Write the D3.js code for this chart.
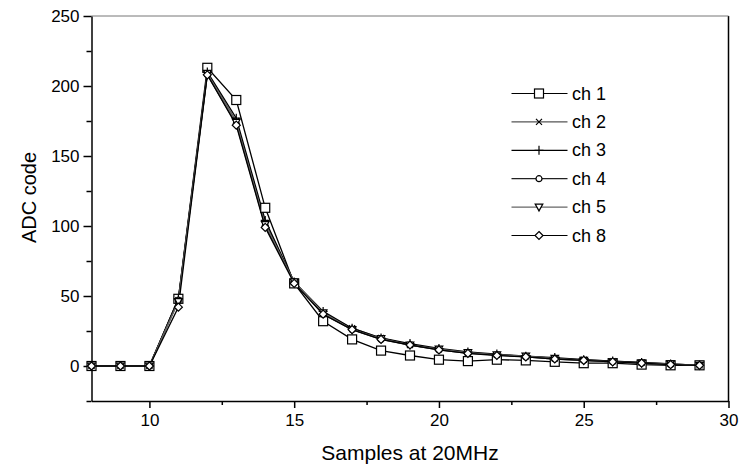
<!DOCTYPE html>
<html>
<head>
  <meta charset="utf-8">
  <title>ADC code</title>
  <script src="https://cdn.jsdelivr.net/npm/d3@7"></script>
  <style>
    body { margin: 0; background: #fff; }
    text { font-family: Arial, "Liberation Sans", Helvetica, sans-serif; fill: #000; }
  </style>
</head>
<body>
<svg id="chart" width="739" height="470"></svg>
<script>
  // sample index (20MHz)
  const samples = [8, 9, 10, 11, 12, 13, 14, 15, 16, 17, 18, 19, 20, 21, 22, 23, 24, 25, 26, 27, 28, 29];

  const ch1 = [0, 0, 0, 48, 213, 190, 113, 59, 32, 19, 11, 7.5, 4.5, 3.5, 4.5, 4, 3, 2, 2, 1, 0.5, 0.5];
  const ch2 = [0, 0, 0, 47, 209, 175, 102, 60, 38, 27, 20, 15, 12, 9.5, 8, 7, 5.5, 4.5, 3.5, 2.5, 1.5, 0.5];
  const ch3 = [0, 0, 0, 48, 210, 177, 104, 60, 39, 27, 20, 16, 12.5, 10, 8.5, 7, 6, 4.5, 3.5, 2.5, 1.5, 0.5];
  const ch4 = [0, 0, 0, 47, 208, 173, 100, 60, 37, 26, 19, 15, 11.5, 9, 8, 6.5, 5, 4, 3, 2, 1, 0.5];
  const ch5 = [0, 0, 0, 46, 209, 174, 101, 60, 38, 26, 19.5, 15, 12, 9.5, 8, 7, 5.5, 4, 3, 2, 1.5, 0.5];
  const ch8 = [0, 0, 0, 42, 208, 172, 99, 59, 37, 26, 19, 15, 11.5, 9, 7.5, 6.5, 5, 4, 3, 2, 1, 0.5];

  const seriesNames = ["ch 1", "ch 2", "ch 3", "ch 4", "ch 5", "ch 8"];
  const seriesValues = [ch1, ch2, ch3, ch4, ch5, ch8];
  const markerTypes = ["square", "cross", "plus", "circle", "triangleDown", "diamond"];
  const lineColors = ["#000", "#555", "#000", "#222", "#666", "#000"];

  const xTicks = [10, 15, 20, 25, 30];
  const xMinorTicks = [12.5, 17.5, 22.5, 27.5];
  const yTicks = [0, 50, 100, 150, 200, 250];
  const yMinorTicks = [-25, 25, 75, 125, 175, 225];

  const svg = d3.select('#chart');
  const pLeft = 91.5, pRight = 728.5, pTop = 16, pBottom = 401;

  const x = d3.scaleLinear().domain([8, 30]).range([pLeft, pRight]);
  const y = d3.scaleLinear().domain([-25, 250]).range([pBottom, pTop]);

  // frame (right + top)
  svg.append('line').attr('x1', pRight).attr('x2', pRight).attr('y1', pTop).attr('y2', pBottom)
    .attr('stroke', '#000').attr('stroke-width', 1.5);
  svg.append('line').attr('x1', pLeft).attr('x2', pRight).attr('y1', pTop).attr('y2', pTop)
    .attr('stroke', '#777').attr('stroke-width', 1);

  // minor ticks first
  svg.append('g').attr('transform', `translate(0,${pBottom})`)
    .call(d3.axisBottom(x).tickValues(xMinorTicks).tickSize(4).tickFormat(''))
    .call(g => g.select('.domain').remove())
    .selectAll('line').attr('stroke-width', 1.5);
  svg.append('g').attr('transform', `translate(${pLeft},0)`)
    .call(d3.axisLeft(y).tickValues(yMinorTicks).tickSize(5).tickFormat(''))
    .call(g => g.select('.domain').remove())
    .selectAll('line').attr('stroke-width', 1.5);

  const xAxis = svg.append('g').attr('transform', `translate(0,${pBottom})`)
    .call(d3.axisBottom(x).tickValues(xTicks).tickSize(7).tickSizeOuter(0).tickPadding(6));
  xAxis.select('.domain').attr('stroke-width', 1.5);
  xAxis.selectAll('line').attr('stroke-width', 1.5);
  xAxis.selectAll('text').attr('font-size', 17).attr('font-family', 'Arial, "Liberation Sans", sans-serif');

  const yAxis = svg.append('g').attr('transform', `translate(${pLeft},0)`)
    .call(d3.axisLeft(y).tickValues(yTicks).tickSize(8).tickSizeOuter(0).tickPadding(4));
  yAxis.select('.domain').attr('stroke-width', 1.5);
  yAxis.selectAll('line').attr('stroke-width', 1.5);
  yAxis.selectAll('text').attr('font-size', 17).attr('font-family', 'Arial, "Liberation Sans", sans-serif');

  // axis titles
  svg.append('text')
    .attr('x', (pLeft + pRight) / 2).attr('y', 460)
    .attr('text-anchor', 'middle').attr('font-size', 21)
    .text('Samples at 20MHz');
  svg.append('text')
    .attr('transform', `translate(36,${(152 + 243) / 2}) rotate(-90)`)
    .attr('text-anchor', 'middle').attr('font-size', 20)
    .text('ADC code');

  function drawMarker(g, type, cx, cy) {
    const s = g.append('g').attr('transform', `translate(${cx},${cy})`);
    const st = { stroke: '#000', 'stroke-width': 1.2, fill: '#fff' };
    let m;
    if (type === 'square') {
      m = s.append('rect').attr('x', -4.5).attr('y', -4.5).attr('width', 9).attr('height', 9);
    } else if (type === 'cross') {
      m = s.append('path').attr('d', 'M-3,-3L3,3M-3,3L3,-3');
    } else if (type === 'plus') {
      m = s.append('path').attr('d', 'M-4.5,0L4.5,0M0,-4.5L0,4.5');
    } else if (type === 'circle') {
      m = s.append('circle').attr('r', 3);
    } else if (type === 'triangleDown') {
      m = s.append('path').attr('d', 'M-3.8,-3L3.8,-3L0,3.8Z');
    } else {
      m = s.append('path').attr('d', 'M0,-4L4,0L0,4L-4,0Z');
    }
    Object.entries(st).forEach(([k, v]) => m.attr(k, v));
  }

  const line = d3.line().x((d, i) => x(samples[i])).y(d => y(d));
  const plot = svg.append('g');

  seriesValues.forEach((vals, k) => {
    plot.append('path').datum(vals)
      .attr('d', line)
      .attr('fill', 'none')
      .attr('stroke', lineColors[k])
      .attr('stroke-width', 1.3);
  });
  seriesValues.forEach((vals, k) => {
    const g = plot.append('g');
    vals.forEach((v, i) => drawMarker(g, markerTypes[k], x(samples[i]), y(v)));
  });

  // legend
  const legend = svg.append('g');
  const legY = d3.scalePoint().domain(seriesNames).range([93.5, 235.5]);
  seriesNames.forEach((name, k) => {
    const ly = legY(name);
    legend.append('line').attr('x1', 511.5).attr('x2', 567.5).attr('y1', ly).attr('y2', ly)
      .attr('stroke', lineColors[k]).attr('stroke-width', 1.2);
    drawMarker(legend, markerTypes[k], 539, ly);
    legend.append('text').attr('x', 572).attr('y', ly + 6)
      .attr('font-size', 18).text(name);
  });
</script>
</body>
</html>
